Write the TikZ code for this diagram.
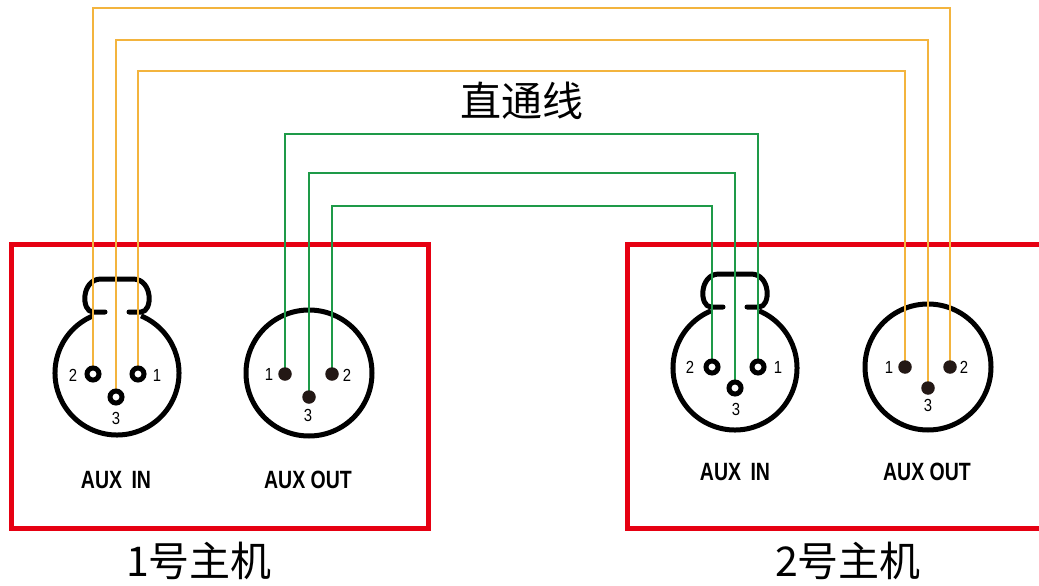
\documentclass[tikz,border=0pt]{standalone}
\usepackage{fontspec}
\usepackage{graphicx}
\setmainfont{Liberation Sans}
\newfontfamily\cjk{Noto Sans CJK SC}
\definecolor{boxred}{HTML}{E60012}
\definecolor{worange}{HTML}{F3B43E}
\definecolor{wgreen}{HTML}{1E9A48}
\definecolor{pindark}{HTML}{231815}
\tikzset{
  redbox/.style={draw=boxred, line width=5pt},
  conn/.style={draw=black, line width=5pt},
  owire/.style={draw=worange, line width=2pt},
  gwire/.style={draw=wgreen, line width=2pt},
  fpin/.style={circle, draw=black, fill=white, line width=5pt, minimum size=12pt, inner sep=0pt},
  mpin/.style={circle, fill=pindark, minimum size=13.5pt, inner sep=0pt},
  pinlbl/.style={inner sep=0pt, font=\fontsize{17.5}{17.5}\selectfont},
  auxlbl/.style={inner sep=0pt, font=\fontsize{25}{25}\selectfont\bfseries},
  cjklbl/.style={inner sep=0pt, font=\cjk\fontsize{41}{41}\selectfont},
}
\newcommand{\femaleshell}{%
  \draw[conn] (-67.2:62) arc[start angle=-67.2, end angle=247.2, radius=62];
  \draw[conn, line cap=round, line join=round]
    (-12,-61) -- (-24,-61) .. controls (-36,-61) and (-36,-94) .. (-16,-94)
    -- (16,-94) .. controls (36,-94) and (36,-61) .. (24,-61) -- (12,-61);
}
\begin{document}
\begin{tikzpicture}[x=1pt,y=-1pt]
\clip (0,0) rectangle (1039,586);
\fill[white] (0,0) rectangle (1039,586);

% host boxes
\draw[redbox] (11,244) rectangle (428,528);
\draw[redbox] (627,244) rectangle (1060,528);

% connector shells
\begin{scope}[shift={(117,373)}]\femaleshell\end{scope}
\begin{scope}[shift={(735,368)}]\femaleshell\end{scope}
\node[circle, conn, minimum size=126pt, inner sep=0pt] (Lout) at (309,373) {};
\node[circle, conn, minimum size=126pt, inner sep=0pt] (Rout) at (928,367) {};

% pin positions
\coordinate (Lin2) at (93,374);
\coordinate (Lin3) at (116,397);
\coordinate (Lin1) at (138,374);
\coordinate (Rin2) at (712,367);
\coordinate (Rin3) at (735,388);
\coordinate (Rin1) at (758,367);
\coordinate (Lo1) at (285,374);
\coordinate (Lo3) at (309,397);
\coordinate (Lo2) at (332,374);
\coordinate (Ro1) at (905,367);
\coordinate (Ro3) at (928,388);
\coordinate (Ro2) at (950,367);

% wire levels
\coordinate (o1) at (0,8);
\coordinate (o2) at (0,40);
\coordinate (o3) at (0,71);
\coordinate (g1) at (0,134);
\coordinate (g2) at (0,173);
\coordinate (g3) at (0,206);

% wires
\draw[owire] (Lin2) -- (Lin2 |- o1) -| (Ro2);
\draw[owire] (Lin3) -- (Lin3 |- o2) -| (Ro3);
\draw[owire] (Lin1) -- (Lin1 |- o3) -| (Ro1);
\draw[gwire] (Lo1) -- (Lo1 |- g1) -| (Rin1);
\draw[gwire] (Lo3) -- (Lo3 |- g2) -| (Rin3);
\draw[gwire] (Lo2) -- (Lo2 |- g3) -| (Rin2);

% pins
\foreach \p in {Lin1,Lin2,Lin3,Rin1,Rin2,Rin3} \node[fpin] at (\p) {};
\foreach \p in {Lo1,Lo2,Lo3,Ro1,Ro2,Ro3} \node[mpin] at (\p) {};

% pin labels
\node[pinlbl] (tLin2) at (73,375) {\scalebox{0.85}[1]{2}};
\node[pinlbl] (tLin1) at (157,375) {\scalebox{0.85}[1]{1}};
\node[pinlbl] (tLin3) at (116,418) {\scalebox{0.85}[1]{3}};
\node[pinlbl] (tRin2) at (690,367) {\scalebox{0.85}[1]{2}};
\node[pinlbl] (tRin1) at (778,367) {\scalebox{0.85}[1]{1}};
\node[pinlbl] (tRin3) at (736,409) {\scalebox{0.85}[1]{3}};
\node[pinlbl] (tLo1) at (269,374) {\scalebox{0.85}[1]{1}};
\node[pinlbl] (tLo2) at (347,375) {\scalebox{0.85}[1]{2}};
\node[pinlbl] (tLo3) at (308,415) {\scalebox{0.85}[1]{3}};
\node[pinlbl] (tRo1) at (889,367) {\scalebox{0.85}[1]{1}};
\node[pinlbl] (tRo2) at (964,367) {\scalebox{0.85}[1]{2}};
\node[pinlbl] (tRo3) at (928,405) {\scalebox{0.85}[1]{3}};

% connector labels
\node[auxlbl] (aLin) at (116,480) {\scalebox{0.78}[1]{AUX\hspace{12pt}IN}};
\node[auxlbl] (aLout) at (308,480) {\scalebox{0.78}[1]{AUX\hspace{7pt}OUT}};
\node[auxlbl] (aRin) at (735,472) {\scalebox{0.78}[1]{AUX\hspace{12pt}IN}};
\node[auxlbl] (aRout) at (927,472) {\scalebox{0.78}[1]{AUX\hspace{7pt}OUT}};

% titles
\node[cjklbl] (title) at (522,101) {直通线};
\node[cjklbl] (host1) at (199,561) {1号主机};
\node[cjklbl] (host2) at (848,561) {2号主机};
\end{tikzpicture}
\end{document}
